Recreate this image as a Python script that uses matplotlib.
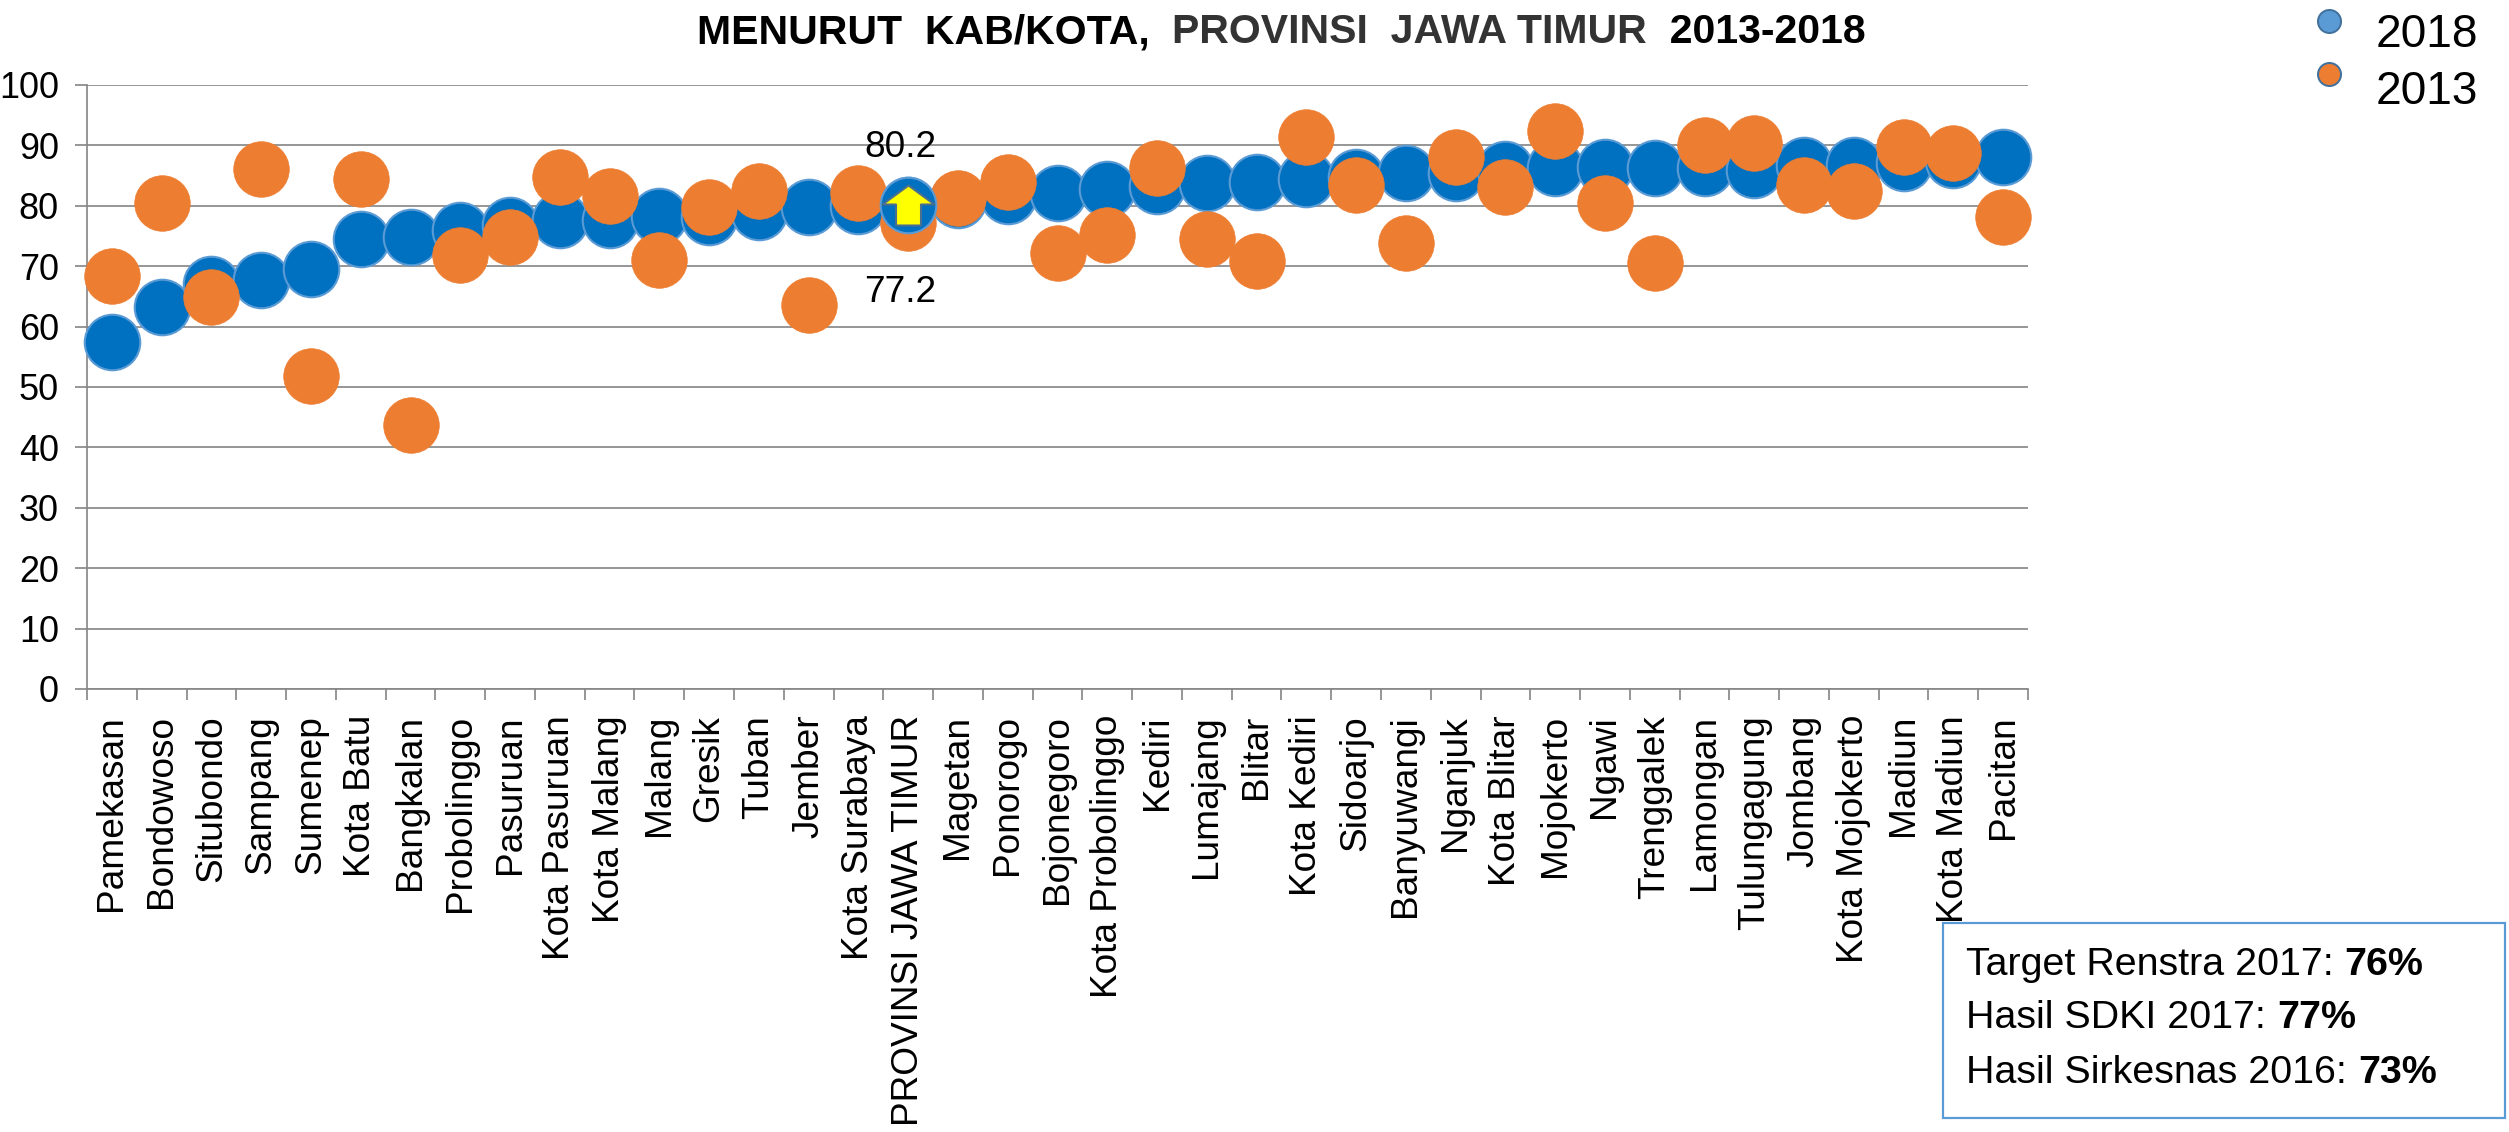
import matplotlib
matplotlib.use("Agg")
import matplotlib.pyplot as plt
from matplotlib import font_manager
from matplotlib.lines import Line2D
from matplotlib.patches import Rectangle
from matplotlib.path import Path
import numpy as np

# ---------------- data ----------------
categories = ["Pamekasan", "Bondowoso", "Situbondo", "Sampang", "Sumenep", "Kota Batu",
              "Bangkalan", "Probolinggo", "Pasuruan", "Kota Pasuruan", "Kota Malang",
              "Malang", "Gresik", "Tuban", "Jember", "Kota Surabaya", "PROVINSI JAWA TIMUR",
              "Magetan", "Ponorogo", "Bojonegoro", "Kota Probolinggo", "Kediri", "Lumajang",
              "Blitar", "Kota Kediri", "Sidoarjo", "Banyuwangi", "Nganjuk", "Kota Blitar",
              "Mojokerto", "Ngawi", "Trenggalek", "Lamongan", "Tulungagung", "Jombang",
              "Kota Mojokerto", "Madiun", "Kota Madiun", "Pacitan"]
values_2018 = [57.4, 63.3, 67.1, 67.7, 69.6, 74.5, 74.9, 76.0, 76.8, 77.7, 77.6,
               78.3, 78.1, 78.9, 79.8, 80.0, 80.2, 81.0, 81.6, 82.1, 82.8, 83.2,
               83.7, 84.0, 84.4, 84.8, 85.4, 85.5, 86.1, 86.2, 86.5, 86.2, 86.3,
               86.0, 86.8, 86.8, 87.1, 87.6, 88.1]
values_2013 = [68.4, 80.5, 64.9, 86.1, 51.9, 84.4, 43.7, 71.9, 74.8, 84.8, 81.7,
               71.1, 79.8, 82.4, 63.5, 82.1, 77.2, 81.3, 84.0, 72.2, 75.1, 86.3,
               74.5, 70.9, 91.4, 83.4, 73.8, 88.1, 83.1, 92.4, 80.4, 70.5, 90.1,
               90.4, 83.4, 82.4, 89.8, 88.7, 78.1]
series_names = ["2018", "2013"]
highlight = "PROVINSI JAWA TIMUR"
y_ticks = [0, 10, 20, 30, 40, 50, 60, 70, 80, 90, 100]
title_parts = ["MENURUT  KAB/KOTA,  ", "PROVINSI  JAWA TIMUR", "  2013-2018"]
note_lines = [("Target Renstra 2017: ", "76%"),
              ("Hasil SDKI 2017: ", "77%"),
              ("Hasil Sirkesnas 2016: ", "73%")]

# ---------------- fonts ----------------
available = {f.name for f in font_manager.fontManager.ttflist}
REG = "Liberation Sans" if "Liberation Sans" in available else "DejaVu Sans"
NARROW = "Liberation Sans Narrow" if "Liberation Sans Narrow" in available else REG
narrow_scale = 1.0 if NARROW != REG else 0.82

W, H = 2509, 1132
DPI = 100
PX = 72.0 / DPI  # points per pixel

def fx(px):
    return px / W

def fy(py):
    return 1 - py / H

BLUE = "#0070C0"
BLUE_EDGE = "#5B9BD5"
ORANGE = "#ED7D31"
GRID = "#878787"

fig = plt.figure(figsize=(W / DPI, H / DPI), dpi=DPI)
ax = fig.add_axes([fx(87), fy(689), (2028 - 87) / W, (689 - 85) / H])

x = np.arange(len(categories))
ax.set_xlim(-0.5, len(categories) - 0.5)
ax.set_ylim(0, 100)

# grid / spines
ax.set_yticks(y_ticks)
ax.yaxis.grid(True, color=GRID, linewidth=1.7 * PX)
ax.set_axisbelow(True)
for s in ["top", "right"]:
    ax.spines[s].set_visible(False)
for s in ["left", "bottom"]:
    ax.spines[s].set_color(GRID)
    ax.spines[s].set_linewidth(1.7 * PX)

ax.tick_params(axis="y", length=12 * PX, width=1.7 * PX, color=GRID,
               labelsize=36 * PX, pad=16 * PX, labelcolor="black")
for lab in ax.get_yticklabels():
    lab.set_fontfamily(REG)

# x ticks at boundaries, labels at centres
ax.set_xticks(np.arange(len(categories) + 1) - 0.5)
ax.set_xticklabels([])
ax.tick_params(axis="x", which="major", length=11 * PX, width=1.7 * PX, color=GRID)
ax.set_xticks(x, minor=True)
ax.set_xticklabels(categories, minor=True, rotation=90, fontsize=37 * PX,
                   fontfamily=REG, va="top", ha="center")
ax.tick_params(axis="x", which="minor", length=0, pad=26 * PX)

# markers
ms = 40
ax.plot(x, values_2018, ls="none", marker="o", ms=ms, mfc=BLUE, mec=BLUE_EDGE,
        mew=1.5, zorder=3, clip_on=False)
ax.plot(x, values_2013, ls="none", marker="o", ms=ms, mfc=ORANGE, mec=ORANGE,
        mew=0.5, zorder=4, clip_on=False)

hi = categories.index(highlight)
ax.plot([x[hi]], [values_2018[hi]], ls="none", marker="o", ms=ms, mfc=BLUE,
        mec=BLUE_EDGE, mew=1.5, zorder=5)

# block up-arrow marker
arrow_verts = [(0, 20), (26, 1), (12.5, 1), (12.5, -20), (-12.5, -20), (-12.5, 1),
               (-26, 1), (0, 20)]
arrow_codes = [Path.MOVETO] + [Path.LINETO] * 6 + [Path.CLOSEPOLY]
arrow_path = Path(arrow_verts, arrow_codes)
ax.plot([x[hi]], [values_2018[hi]], ls="none", marker=arrow_path, ms=52 * PX,
        mfc="#FFFF00", mec="#4A6E8F", mew=1.5, zorder=6)

# value labels for the province
ax.annotate(f"{values_2018[hi]:.1f}", xy=(x[hi], values_2018[hi]),
            xytext=(-8 * PX, 57 * PX), textcoords="offset points",
            ha="center", va="center", fontsize=37 * PX, fontfamily=REG, zorder=7)
ax.annotate(f"{values_2013[hi]:.1f}", xy=(x[hi], values_2013[hi]),
            xytext=(-8 * PX, -70 * PX), textcoords="offset points",
            ha="center", va="center", fontsize=37 * PX, fontfamily=REG, zorder=7)

# title in three parts
tsize = 48 * PX * narrow_scale if NARROW != REG else 41 * PX
t1 = fig.text(fx(697), fy(32), title_parts[0], fontsize=tsize, fontweight="bold",
              fontfamily=NARROW, ha="left", va="center", color="black")
t2 = ax.annotate(title_parts[1], xy=(1, 0), xycoords=t1, ha="left", va="bottom",
                 fontsize=tsize, fontweight="bold", fontfamily=NARROW,
                 color="#333333", annotation_clip=False)
t3 = ax.annotate(title_parts[2], xy=(1, 0), xycoords=t2, ha="left", va="bottom",
                 fontsize=tsize, fontweight="bold", fontfamily=NARROW,
                 color="black", annotation_clip=False)

# legend (manual, top right)
leg_y = [21, 74]
leg_text_y = [35, 92]
leg_faces = ["#5B9BD5", ORANGE]
for name, face, my, ty in zip(series_names, leg_faces, leg_y, leg_text_y):
    fig.add_artist(Line2D([fx(2329)], [fy(my)], transform=fig.transFigure,
                          marker="o", ls="none", ms=23 * PX, mfc=face,
                          mec="#41719C", mew=2 * PX))
    fig.text(fx(2376), fy(ty), name, fontsize=46 * PX, fontfamily=REG,
             ha="left", va="center")

# note box
fig.add_artist(Rectangle((fx(1943), fy(1118)), (2505 - 1943) / W, (1118 - 923) / H,
                         transform=fig.transFigure, fill=False,
                         edgecolor=BLUE_EDGE, linewidth=2.2 * PX))
nsize = 48 * PX * narrow_scale
for (normal, bold), cy in zip(note_lines, [965, 1018, 1073]):
    tn = fig.text(fx(1966), fy(cy), normal, fontsize=nsize, fontfamily=NARROW,
                  ha="left", va="center")
    ax.annotate(bold, xy=(1, 0), xycoords=tn, ha="left", va="bottom",
                fontsize=nsize, fontfamily=NARROW, fontweight="bold",
                annotation_clip=False)

fig.savefig("out.png", dpi=DPI, facecolor="white")
